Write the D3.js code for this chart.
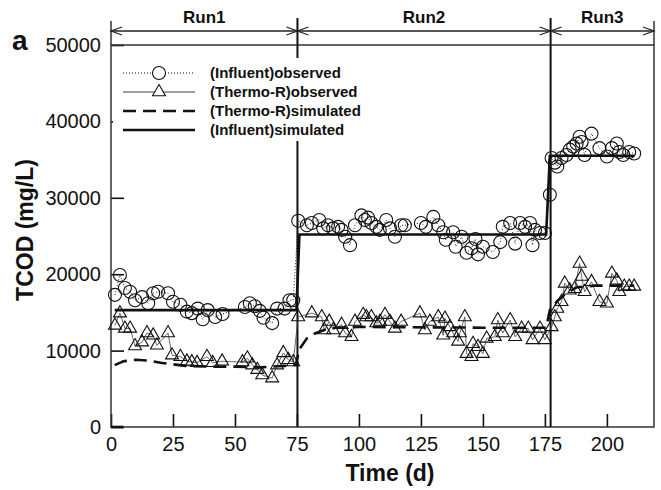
<!DOCTYPE html>
<html lang="en">
	<head>
		<meta charset="utf-8">
		<title>D3: TCOD over three runs</title>
		<script type="text/javascript" src="https://d3js.org/d3.v7.min.js"></script>
		<style type="text/css">
			body { margin: 0; background: #fff; }
			text {
				font-family: "Liberation Sans", Arial, sans-serif;
				fill: #111;
			}
		</style>
	</head>
	<body>
		<script type="text/javascript">

			//Data: [day, TCOD mg/L]
			var influentObs = [
				[1.6,17300],[3.6,19900],[5.6,18200],[7.7,17700],[9.7,16600],[12.5,17000],[15,16200],[17,17500],
				[19,17700],[23,17500],[25,16400],[28,16000],[30.6,15100],[32.6,14900],[35,15500],[37,14100],
				[39,15300],[42,14400],[45,14800],[54,15700],[56,16200],[58,15800],[60,15200],[61.5,14300],
				[65,13600],[67,15500],[70,15500],[72,16600],[73.5,16600],
				[75.5,27000],[79,26400],[81,26700],[84,27100],[85.6,26000],[87.5,26400],[89.6,26000],[91.6,26200],
				[93,25800],[94.4,24900],[96.4,23800],[98.4,26400],[101,27700],[102.4,27100],[103.7,27400],[105,26700],
				[107,26200],[108.4,25800],[111,27100],[112.5,26000],[114.5,24900],[117,26400],[118.5,26400],
				[125,26700],[127,26200],[130,27500],[132,26400],[134,25500],[135,24500],[138,25500],[139,23600],
				[141.4,24900],[143.4,22800],[145.4,23400],[147,24600],[148,22600],[150,23600],[154,22900],
				[157,24200],[158,26200],[161,26700],[163,24000],[165,26700],[167,26200],[169,26700],[170,23800],
				[171,25800],[173,25400],[175,25400],[177,30400],
				[177.7,35200],[179,34600],[180,34100],[181.7,35200],[183.7,35600],[185,36300],[186.4,36700],
				[187.8,37100],[189,38000],[189.8,37300],[191,35600],[193.8,38400],[197,36500],[200,35400],
				[202,36500],[204,37100],[205,36000],[206.6,35600],[209,36000],[211,35800]
			];

			var thermoObs = [
				[1.6,13300],[3.6,14900],[5.6,12900],[7.7,12900],[9.7,10600],[12.5,11100],[14.5,12300],[17,12000],
				[18.5,10700],[23,12300],[24.6,9400],[28,9200],[30.6,8600],[32.6,8500],[34.7,8400],[38.7,9200],
				[41,8400],[44.8,8600],[53,8500],[55,9000],[57,8100],[59,7500],[61,6800],[65,6400],[67,8100],
				[69.5,9700],[71.5,8800],[73.5,8500],
				[75.5,14400],[81,14900],[85,14400],[86,12700],[88,13800],[89.6,12700],[93,13400],[94.4,12300],
				[97,11800],[98.4,13800],[101.7,14700],[103,14400],[105,14400],[107,13600],[108.5,13800],[110.5,14700],
				[112.5,13800],[114.5,12900],[117,13800],[124.6,14900],[126.6,12700],[128.6,13800],[132,14400],
				[134,12000],[134.7,14200],[136.7,13100],[138,12300],[140,11200],[140.7,12300],[142.7,14400],
				[143.4,9600],[145.4,9200],[146,10900],[148,10500],[150,9600],[151.5,11600],[154.8,11800],[156,14000],
				[158,12300],[161,14000],[163,11800],[165.6,12900],[168.3,12900],[170,11400],[173,12900],[175,11400],
				[177.7,13100],[179,14400],[180,15500],[181.7,16400],[183,18800],[185,17900],[187,18100],[189,21400],
				[189.8,19700],[191,17700],[193.8,19000],[197,16400],[200,16200],[202,20100],[204,19200],[205,17700],
				[207,18400],[209,18400],[211,18400]
			];

			var influentSim = [[1.5,15300],[74.8,15300],[76,25200],[175.5,25200],[177,35500],[211,35500]];

			var thermoSim = [
				[1.5,8100],[5,8600],[10,8800],[15,8700],[20,8400],[25,8200],[30,8000],[40,7900],[50,7900],
				[60,7800],[70,8000],[74.5,8100],[76,10200],[79,11600],[82,12200],[86,12700],[90,13000],
				[100,13100],[150,13000],[175.5,13000],[177,15300],[180,16500],[184,17600],[188,18300],
				[195,18500],[211,18500]
			];

			var startSeg = [[0,0],[5,0]];

			var runBreaks = [75.2, 177.3];
			var runNames = ["Run1", "Run2", "Run3"];
			var xTicks = [0, 25, 50, 75, 100, 125, 150, 175, 200];
			var yTicks = [0, 10000, 20000, 30000, 40000, 50000];
			var legendLabels = ["(Influent)observed", "(Thermo-R)observed", "(Thermo-R)simulated", "(Influent)simulated"];

			//Width and height
			var w = 661;
			var h = 490;

			var x = d3.scaleLinear().domain([0, 219]).range([111, 654]);
			var y = d3.scaleLinear().domain([0, 50000]).range([427, 45]);

			var svg = d3.select("body")
						.append("svg")
						.attr("width", w)
						.attr("height", h);

			//Axes, ticks pointing inward
			var xAxis = svg.append("g")
						.attr("transform", "translate(0," + y(0) + ")")
						.call(d3.axisBottom(x).tickValues(xTicks).tickSizeInner(-13).tickSizeOuter(0).tickPadding(10));
			var yAxis = svg.append("g")
						.attr("transform", "translate(" + x(0) + ",0)")
						.call(d3.axisLeft(y).tickValues(yTicks).tickSizeInner(-13).tickSizeOuter(0).tickPadding(10).tickFormat(d3.format("d")));

			[xAxis, yAxis].forEach(function(g){
				g.select(".domain").remove();
				g.selectAll("line").attr("stroke", "#111").attr("stroke-width", 1.6);
				g.selectAll("text").style("font-size", "20px").attr("fill", "#111");
			});

			//Frame
			svg.append("rect")
				.attr("x", x(0)).attr("y", y(50000))
				.attr("width", x(219) - x(0)).attr("height", y(0) - y(50000))
				.attr("fill", "none").attr("stroke", "#333").attr("stroke-width", 1.5);

			//Frame sides run up into the run band
			[0, 219].forEach(function(d){
				svg.append("line")
					.attr("x1", x(d)).attr("x2", x(d))
					.attr("y1", 21).attr("y2", y(50000))
					.attr("stroke", "#333").attr("stroke-width", 1.5);
			});

			//Run dividers
			svg.selectAll("line.divider")
				.data(runBreaks)
				.enter()
				.append("line")
				.attr("class", "divider")
				.attr("x1", function(d){ return x(d); })
				.attr("x2", function(d){ return x(d); })
				.attr("y1", 18)
				.attr("y2", y(0))
				.attr("stroke", "#111")
				.attr("stroke-width", 2);

			//Run band with open arrowheads
			var bandY = 31;
			svg.append("line")
				.attr("x1", x(0)).attr("x2", x(219))
				.attr("y1", bandY).attr("y2", bandY)
				.attr("stroke", "#222").attr("stroke-width", 1.3);

			var edges = [0].concat(runBreaks).concat([219]);
			for(var i=0; i<runNames.length; i++){
				var a = x(edges[i]), b = x(edges[i+1]);
				svg.append("path")
					.attr("d", "M" + (a+11) + "," + (bandY-4) + "L" + a + "," + bandY + "L" + (a+11) + "," + (bandY+4))
					.attr("fill", "none").attr("stroke", "#222").attr("stroke-width", 1.2);
				svg.append("path")
					.attr("d", "M" + (b-11) + "," + (bandY-4) + "L" + b + "," + bandY + "L" + (b-11) + "," + (bandY+4))
					.attr("fill", "none").attr("stroke", "#222").attr("stroke-width", 1.2);
				svg.append("text")
					.attr("x", (a + b) / 2)
					.attr("y", 23)
					.attr("text-anchor", "middle")
					.style("font-size", "17px")
					.style("font-weight", "bold")
					.text(runNames[i]);
			}

			var line = d3.line()
						.x(function(d){ return x(d[0]); })
						.y(function(d){ return y(d[1]); });

			//Observed connecting lines
			svg.append("path")
				.attr("d", line(influentObs))
				.attr("fill", "none").attr("stroke", "#222").attr("stroke-width", 1)
				.attr("stroke-dasharray", "1,2");
			svg.append("path")
				.attr("d", line(thermoObs))
				.attr("fill", "none").attr("stroke", "#444").attr("stroke-width", 0.8);

			//Simulated lines
			svg.append("path")
				.attr("d", line(influentSim))
				.attr("fill", "none").attr("stroke", "#111").attr("stroke-width", 2.6);
			svg.append("path")
				.attr("d", line(thermoSim))
				.attr("fill", "none").attr("stroke", "#111").attr("stroke-width", 2.6)
				.attr("stroke-dasharray", "13,7");
			svg.append("path")
				.attr("d", line(startSeg))
				.attr("fill", "none").attr("stroke", "#111").attr("stroke-width", 2.6);

			//Markers
			var tri = d3.symbol().type(d3.symbolTriangle).size(72);

			svg.selectAll("circle.inf")
				.data(influentObs)
				.enter()
				.append("circle")
				.attr("class", "inf")
				.attr("cx", function(d){ return x(d[0]); })
				.attr("cy", function(d){ return y(d[1]); })
				.attr("r", 6.5)
				.attr("fill", "none")
				.attr("stroke", "#111")
				.attr("stroke-width", 1.1);

			svg.selectAll("path.thermo")
				.data(thermoObs)
				.enter()
				.append("path")
				.attr("class", "thermo")
				.attr("d", tri)
				.attr("transform", function(d){ return "translate(" + x(d[0]) + "," + y(d[1]) + ")"; })
				.attr("fill", "none")
				.attr("stroke", "#111")
				.attr("stroke-width", 1.1);

			//Legend (white box hides the divider behind it)
			svg.append("rect")
				.attr("x", 113).attr("y", 58)
				.attr("width", 250).attr("height", 83)
				.attr("fill", "#fff");

			var rowsY = [73, 92, 111, 130];
			var lx1 = 123, lx2 = 195, lmid = 159;

			var leg = svg.selectAll("g.leg")
						.data(legendLabels)
						.enter()
						.append("g")
						.attr("class", "leg")
						.attr("transform", function(d, i){ return "translate(0," + rowsY[i] + ")"; });

			leg.append("line")
				.attr("x1", lx1).attr("x2", lx2)
				.attr("stroke", "#111")
				.attr("stroke-width", function(d, i){ return i < 2 ? (i == 0 ? 1 : 0.8) : 2.6; })
				.attr("stroke-dasharray", function(d, i){ return i == 0 ? "1,2" : (i == 2 ? "13,7" : null); });

			leg.filter(function(d, i){ return i == 0; })
				.append("circle")
				.attr("cx", lmid).attr("r", 6.5)
				.attr("fill", "#fff").attr("stroke", "#111").attr("stroke-width", 1.1);

			leg.filter(function(d, i){ return i == 1; })
				.append("path")
				.attr("d", tri)
				.attr("transform", "translate(" + lmid + ",0)")
				.attr("fill", "#fff").attr("stroke", "#111").attr("stroke-width", 1.1);

			leg.append("text")
				.attr("x", 210)
				.attr("dy", "0.35em")
				.style("font-size", "15px")
				.style("font-weight", "bold")
				.text(function(d){ return d; });

			//Titles
			svg.append("text")
				.attr("transform", "translate(33,230) rotate(-90)")
				.attr("text-anchor", "middle")
				.style("font-size", "23px")
				.style("font-weight", "bold")
				.text("TCOD (mg/L)");

			svg.append("text")
				.attr("x", 390)
				.attr("y", 481)
				.attr("text-anchor", "middle")
				.style("font-size", "23px")
				.style("font-weight", "bold")
				.text("Time (d)");

			svg.append("text")
				.attr("x", 12)
				.attr("y", 50)
				.style("font-size", "28px")
				.style("font-weight", "bold")
				.text("a");

		</script>
	</body>
</html>
